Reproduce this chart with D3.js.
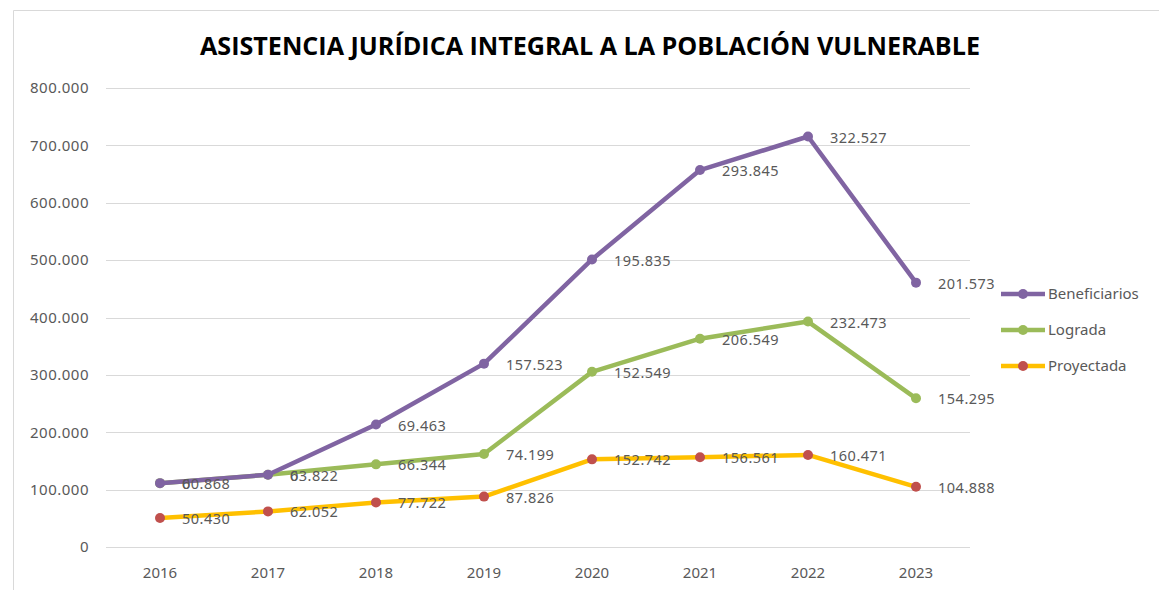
<!DOCTYPE html>
<html>
<head>
<meta charset="utf-8">
<script src="https://cdn.jsdelivr.net/npm/d3@7"></script>
<style>
  body { margin: 0; background: #fff; }
  svg { display: block; }
</style>
</head>
<body>
<div id="chart"></div>
<script>
// Data (stacked line chart: each series sits on top of the previous)
const years = ['2016', '2017', '2018', '2019', '2020', '2021', '2022', '2023'];
const proyectada = [50430, 62052, 77722, 87826, 152742, 156561, 160471, 104888];
const lograda = [60868, 63822, 66344, 74199, 152549, 206549, 232473, 154295];
const beneficiarios = [0, 0, 69463, 157523, 195835, 293845, 322527, 201573];
const yTicks = [0, 100000, 200000, 300000, 400000, 500000, 600000, 700000, 800000];

(function() {
  const W = 1159, H = 590;
  const svg = d3.select('#chart').append('svg')
    .attr('width', W).attr('height', H);

  const esLocale = d3.formatLocale({ decimal: ',', thousands: '.', grouping: [3], currency: ['', ''] });
  const fmt = esLocale.format(',d');

  // outer chart border (only top/left visible in the crop)
  svg.append('path')
    .attr('d', `M13.5,${H} V10.5 H${W}`)
    .attr('fill', 'none')
    .attr('stroke', '#d9d9d9')
    .attr('stroke-width', 1);

  // title
  svg.append('text')
    .attr('x', 590).attr('y', 55)
    .attr('text-anchor', 'middle')
    .attr('textLength', 780)
    .attr('lengthAdjust', 'spacingAndGlyphs')
    .style('font-family', '"Open Sans", "Noto Sans", sans-serif')
    .style('font-weight', 'bold')
    .style('font-size', '25px')
    .style('fill', '#000')
    .text('ASISTENCIA JURÍDICA INTEGRAL A LA POBLACIÓN VULNERABLE');

  const x = d3.scaleBand().domain(years).range([106, 970]);
  const y = d3.scaleLinear().domain([0, 800000]).range([547, 88]);
  const cx = d => x(d) + x.bandwidth() / 2;

  // gridlines
  svg.append('g').selectAll('line')
    .data(yTicks)
    .enter().append('line')
    .attr('x1', 106).attr('x2', 970)
    .attr('y1', d => Math.round(y(d)) + 0.5)
    .attr('y2', d => Math.round(y(d)) + 0.5)
    .attr('stroke', '#d9d9d9')
    .attr('stroke-width', 1);

  // y axis labels
  svg.append('g').selectAll('text')
    .data(yTicks)
    .enter().append('text')
    .attr('x', 89)
    .attr('y', d => y(d))
    .attr('dy', '0.35em')
    .attr('text-anchor', 'end')
    .style('font-family', '"Noto Sans", sans-serif')
    .style('font-size', '15px')
    .style('letter-spacing', '0.5px')
    .style('fill', '#595959')
    .text(d => fmt(d));

  // x axis labels
  svg.append('g').selectAll('text')
    .data(years)
    .enter().append('text')
    .attr('x', d => cx(d))
    .attr('y', 578)
    .attr('text-anchor', 'middle')
    .style('font-family', '"Liberation Sans Narrow", "Noto Sans", sans-serif')
    .style('font-size', '15px')
    .style('fill', '#595959')
    .text(d => d);

  // stack the series
  const table = years.map((yr, i) => ({
    year: yr,
    Proyectada: proyectada[i],
    Lograda: lograda[i],
    Beneficiarios: beneficiarios[i]
  }));
  const keys = ['Proyectada', 'Lograda', 'Beneficiarios'];
  const stacked = d3.stack().keys(keys)(table);

  const lineColor = { Proyectada: '#ffc000', Lograda: '#9bbb59', Beneficiarios: '#8064a2' };
  const markColor = { Proyectada: '#c0504d', Lograda: '#9bbb59', Beneficiarios: '#8064a2' };

  const line = d3.line()
    .x(d => cx(d.data.year))
    .y(d => y(d[1]));

  stacked.forEach(s => {
    svg.append('path')
      .datum(s)
      .attr('d', line)
      .attr('fill', 'none')
      .attr('stroke', lineColor[s.key])
      .attr('stroke-width', 4.5)
      .attr('stroke-linejoin', 'round');
    svg.append('g').selectAll('circle')
      .data(s)
      .enter().append('circle')
      .attr('cx', d => cx(d.data.year))
      .attr('cy', d => y(d[1]))
      .attr('r', 5)
      .attr('fill', markColor[s.key]);
  });

  // data labels: raw series value, to the right of the point
  stacked.forEach(s => {
    svg.append('g').selectAll('text')
      .data(s)
      .enter().append('text')
      .attr('x', d => cx(d.data.year) + 22)
      .attr('y', d => y(d[1]) + 1)
      .attr('dy', '0.35em')
      .style('font-family', '"Noto Sans", sans-serif')
      .style('font-size', '14.5px')
      .style('letter-spacing', '0.5px')
      .style('fill', '#595959')
      .text(d => fmt(d.data[s.key]));
  });

  // legend
  const legendKeys = ['Beneficiarios', 'Lograda', 'Proyectada'];
  const legend = svg.append('g').selectAll('g')
    .data(legendKeys)
    .enter().append('g')
    .attr('transform', (d, i) => `translate(1001, ${294 + i * 36})`);
  legend.append('line')
    .attr('x1', 0).attr('x2', 44)
    .attr('stroke', d => lineColor[d])
    .attr('stroke-width', 4.5);
  legend.append('circle')
    .attr('cx', 22).attr('r', 5)
    .attr('fill', d => markColor[d]);
  legend.append('text')
    .attr('x', 47)
    .attr('dy', '0.35em')
    .style('font-family', '"Liberation Sans Narrow", "Noto Sans", sans-serif')
    .style('font-size', '15px')
    .style('fill', '#595959')
    .text(d => d);
})();
</script>
</body>
</html>
